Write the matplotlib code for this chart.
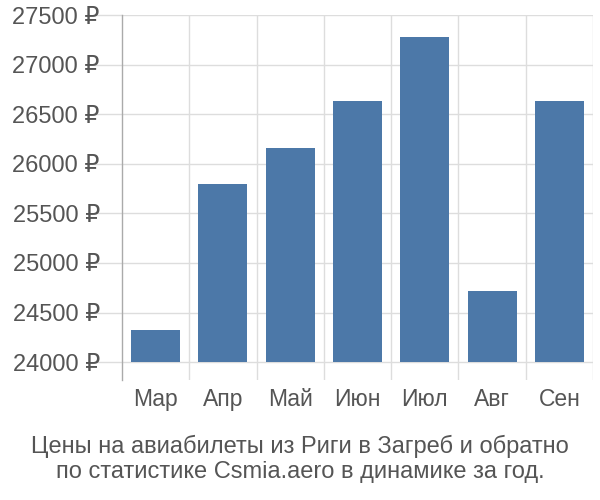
import matplotlib
matplotlib.use("Agg")
import matplotlib.pyplot as plt
from matplotlib.ticker import FixedLocator

plt.rcParams['font.family'] = ['Liberation Sans', 'DejaVu Sans']

months = ["Мар", "Апр", "Май", "Июн", "Июл", "Авг", "Сен"]
prices = [24320, 25795, 26160, 26630, 27275, 24720, 26630]
yticks = [24000, 24500, 25000, 25500, 26000, 26500, 27000, 27500]
title = "Цены на авиабилеты из Риги в Загреб и обратно\nпо статистике Csmia.aero в динамике за год."

text_color = "#555555"
grid_color = "#dddddd"
bar_color = "#4c78a8"

fig = plt.figure(figsize=(6, 5), dpi=100)
ax = fig.add_axes([122 / 600, 1 - 380 / 500, (593 - 122) / 600, (380 - 15) / 500])

x = list(range(len(months)))
base = yticks[0]
ax.bar(x, [p - base for p in prices], bottom=base, width=0.73, color=bar_color, zorder=3)

ax.set_xlim(-0.5, len(months) - 0.5)
ax.set_ylim(base - 180, yticks[-1])

ax.set_yticks(yticks)
ax.set_yticklabels([f"{v} ₽" for v in yticks])
ax.set_xticks(x)
ax.set_xticklabels(months)
ax.xaxis.set_minor_locator(FixedLocator([i + 0.5 for i in range(len(months))]))

ax.tick_params(axis='y', length=20, width=1, color=grid_color, labelsize=17, labelcolor=text_color, pad=-4)
ax.tick_params(axis='x', which='major', length=0, labelsize=16.5, labelcolor=text_color, pad=6)
ax.tick_params(axis='x', which='minor', length=0)

ax.grid(axis='y', which='major', color=grid_color, linewidth=1, zorder=0)
ax.grid(axis='x', which='minor', color=grid_color, linewidth=1, zorder=0)

for s in ['top', 'right', 'bottom']:
    ax.spines[s].set_visible(False)
ax.spines['left'].set_color("#aaaaaa")
ax.spines['left'].set_linewidth(1)

fig.text(0.5, 1 - 459 / 500, title, ha='center', va='center', fontsize=17,
         color=text_color, linespacing=1.18)

fig.savefig("out.png", dpi=100)
